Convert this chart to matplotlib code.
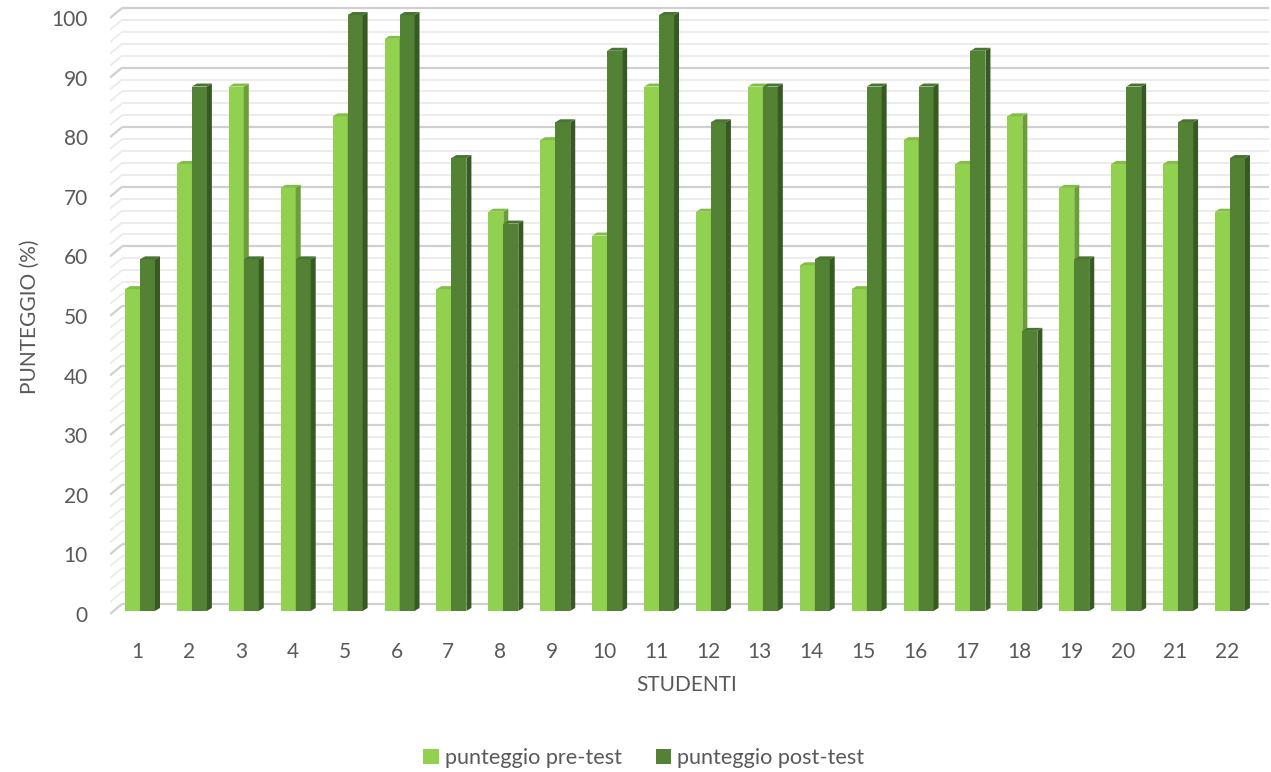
import numpy as np
import matplotlib.pyplot as plt
from matplotlib.patches import Polygon, Patch
from matplotlib.transforms import ScaledTranslation

plt.rcParams['font.family'] = ['Lato', 'DejaVu Sans']

# data
studenti = list(range(1, 23))
pre_test = [54, 75, 88, 71, 83, 96, 54, 67, 79, 63, 88, 67, 88, 58, 54, 79, 75, 83, 71, 75, 75, 67]
post_test = [59, 88, 59, 59, 100, 100, 76, 65, 82, 94, 100, 82, 88, 59, 88, 88, 94, 47, 59, 88, 82, 76]
yticks = list(range(0, 101, 10))

# colours (front, top, side)
pre_cols = ('#92D050', '#80BE45', '#6C9E38')
post_cols = ('#548235', '#4A7530', '#375A22')
txt_col = '#595959'
fs = 15

fig = plt.figure(figsize=(12.71, 7.72), dpi=100)
ax = fig.add_axes([110 / 1271, (772 - 619.9) / 772, 1159 / 1271, 616.8 / 772])
ax.set_xlim(0.48, 22.81)
ax.set_ylim(-1.5, 102)

px_x = 1 / 51.9   # data units per pixel
px_y = 1 / 5.96

# 3d-ish walls: left wall diagonals + back wall grid
back_dx = 12 * px_x
back_dy = 7 * px_y
for v in range(0, 101, 2):
    major = (v % 10 == 0)
    col = '#D0D0D0' if major else '#EBEBEB'
    lw = 1.6 if major else 1.3
    x0 = 0.48
    ax.plot([x0, x0 + back_dx], [v - 3 * px_y, v + back_dy], color=col, lw=lw,
            solid_capstyle='butt', zorder=1)
    ax.plot([x0 + back_dx, 22.81], [v + back_dy, v + back_dy], color=col, lw=lw,
            solid_capstyle='butt', zorder=1)

bw = 15 * px_x
dx = 5 * px_x
dy = 3 * px_y


def bar3d(x, h, cols, z):
    ax.bar(x, h, width=bw, align='edge', color=cols[0], edgecolor='none', zorder=z)
    top = [(x, h), (x + bw, h), (x + bw + dx, h + dy), (x + dx, h + dy)]
    side = [(x + bw, 0), (x + bw + dx, dy), (x + bw + dx, h + dy), (x + bw, h)]
    ax.add_patch(Polygon(side, closed=True, facecolor=cols[2], edgecolor='none', zorder=z))
    ax.add_patch(Polygon(top, closed=True, facecolor=cols[1], edgecolor='none', zorder=z))


for i, c in enumerate(studenti):
    z = 3 + i * 2
    bar3d(c - 12 * px_x, pre_test[i], pre_cols, z)
    bar3d(c + 3 * px_x, post_test[i], post_cols, z + 1)

for s in ax.spines.values():
    s.set_visible(False)
ax.set_xticks(studenti)
ax.set_xticklabels([str(s) for s in studenti])
ax.set_yticks(yticks)
ax.set_yticklabels([str(t) for t in yticks])
ax.tick_params(axis='both', length=0, labelsize=fs, labelcolor=txt_col)
ax.tick_params(axis='y', pad=16)
ax.tick_params(axis='x', pad=16)
for lab in ax.get_yticklabels():
    lab.set_transform(lab.get_transform() + ScaledTranslation(0, -3 / 100, fig.dpi_scale_trans))

fig.text(687 / 1271, 1 - 685 / 772, 'STUDENTI', ha='center', va='center',
         fontsize=fs, color=txt_col)
fig.text(30 / 1271, 1 - 317 / 772, 'PUNTEGGIO (%)', ha='center', va='center',
         rotation=90, fontsize=fs, color=txt_col)

handles = [Patch(facecolor=pre_cols[0], label='punteggio pre-test'),
           Patch(facecolor=post_cols[0], label='punteggio post-test')]
leg = fig.legend(handles=handles, loc='center', bbox_to_anchor=(644 / 1271, 1 - 758 / 772),
                 ncol=2, frameon=False, fontsize=15.6, handlelength=0.7,
                 handleheight=0.7, handletextpad=0.3, columnspacing=1.55)
for t in leg.get_texts():
    t.set_color(txt_col)

fig.savefig('out.png', dpi=100)
